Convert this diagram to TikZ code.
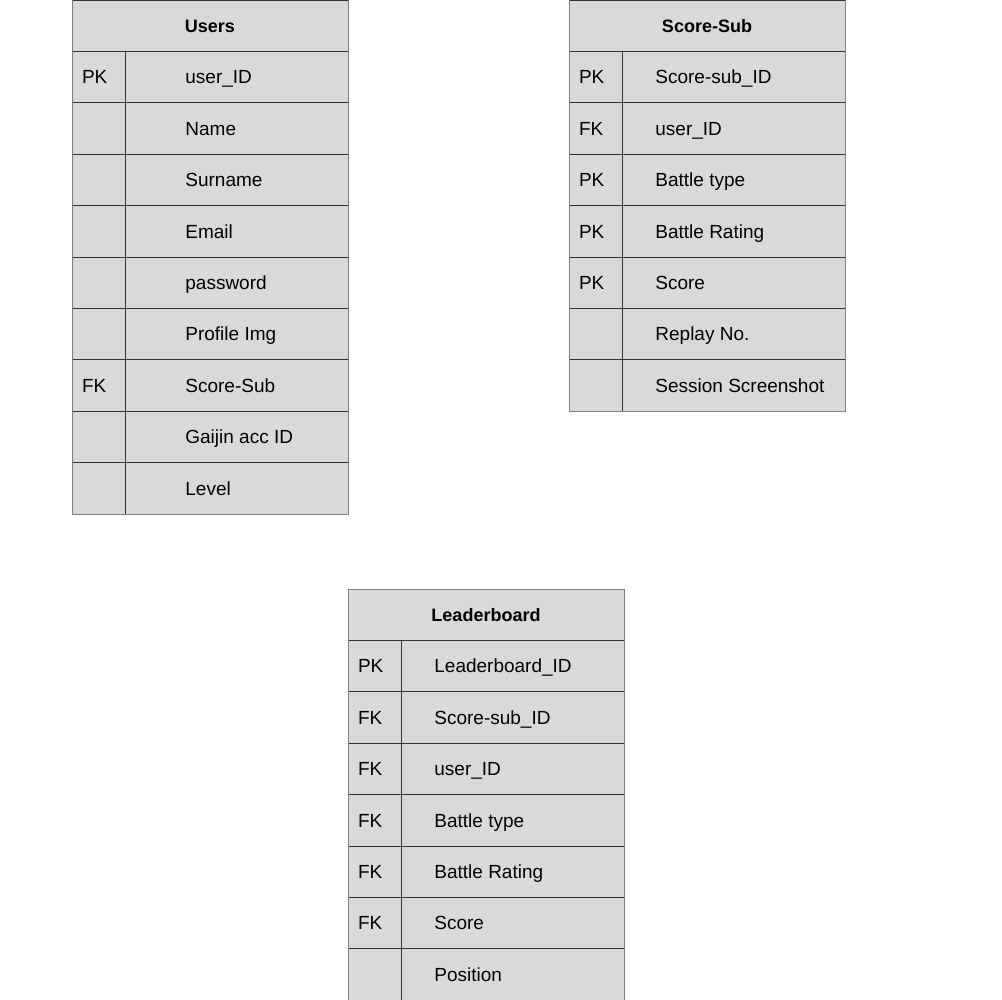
\documentclass[tikz,border=0pt]{standalone}
\usepackage{fontspec}
\setmainfont{Liberation Sans}
\usepackage{tikz}
\usepackage{xcolor}

\begin{document}
\begin{tikzpicture}[x=1pt,y=-1pt,thick,
  every node/.style={font=\fontsize{19}{23}\selectfont},
  cell/.style={draw=black!80,fill=gray!30,minimum height=51.4pt,inner sep=0pt,outer sep=0pt,anchor=north west,text height=13.6pt,text depth=0pt},
  head cell/.style={cell,minimum width=276pt,font=\fontsize{18}{22}\selectfont\bfseries},
  key cell/.style={cell,minimum width=53pt,text width=33pt,align=left},
  field cell/.style={cell,minimum width=223pt},
  field text/.style={anchor=west,inner sep=0pt,text height=13.6pt,text depth=0pt},
  frame/.style={draw=gray,line width=1pt}]

  \useasboundingbox (0,0) rectangle (1002,1000);

  % Users
  \node[head cell] (users) at (72,0) {Users};
  \foreach \k/\f [count=\i] in {PK/user\_ID,/Name,/Surname,/Email,/password,/Profile Img,FK/Score-Sub,/Gaijin acc ID,/Level} {
    \node[key cell] (users-k\i) at (72,51.4*\i) {\k};
    \node[field cell] (users-f\i) at (125,51.4*\i) {};
    \node[field text] (users-t\i) at ([xshift=60pt]users-f\i.west) {\f};
  }
  \draw[frame] (users.north west) rectangle (users-f9.south east);

  % Score-Sub
  \node[head cell] (sub) at (569,0) {Score-Sub};
  \foreach \k/\f [count=\i] in {PK/Score-sub\_ID,FK/user\_ID,PK/Battle type,PK/Battle Rating,PK/Score,/Replay No.,/Session Screenshot} {
    \node[key cell] (sub-k\i) at (569,51.4*\i) {\k};
    \node[field cell] (sub-f\i) at (622,51.4*\i) {};
    \node[field text] (sub-t\i) at ([xshift=33pt]sub-f\i.west) {\f};
  }
  \draw[frame] (sub.north west) rectangle (sub-f7.south east);

  % Leaderboard
  \node[head cell] (board) at (348,589) {Leaderboard};
  \foreach \k/\f [count=\i] in {PK/Leaderboard\_ID,FK/Score-sub\_ID,FK/user\_ID,FK/Battle type,FK/Battle Rating,FK/Score,/Position} {
    \node[key cell] (board-k\i) at (348,589+51.4*\i) {\k};
    \node[field cell] (board-f\i) at (401,589+51.4*\i) {};
    \node[field text] (board-t\i) at ([xshift=33pt]board-f\i.west) {\f};
  }
  \draw[frame] (board.north west) rectangle (board-f7.south east);
\end{tikzpicture}
\end{document}
